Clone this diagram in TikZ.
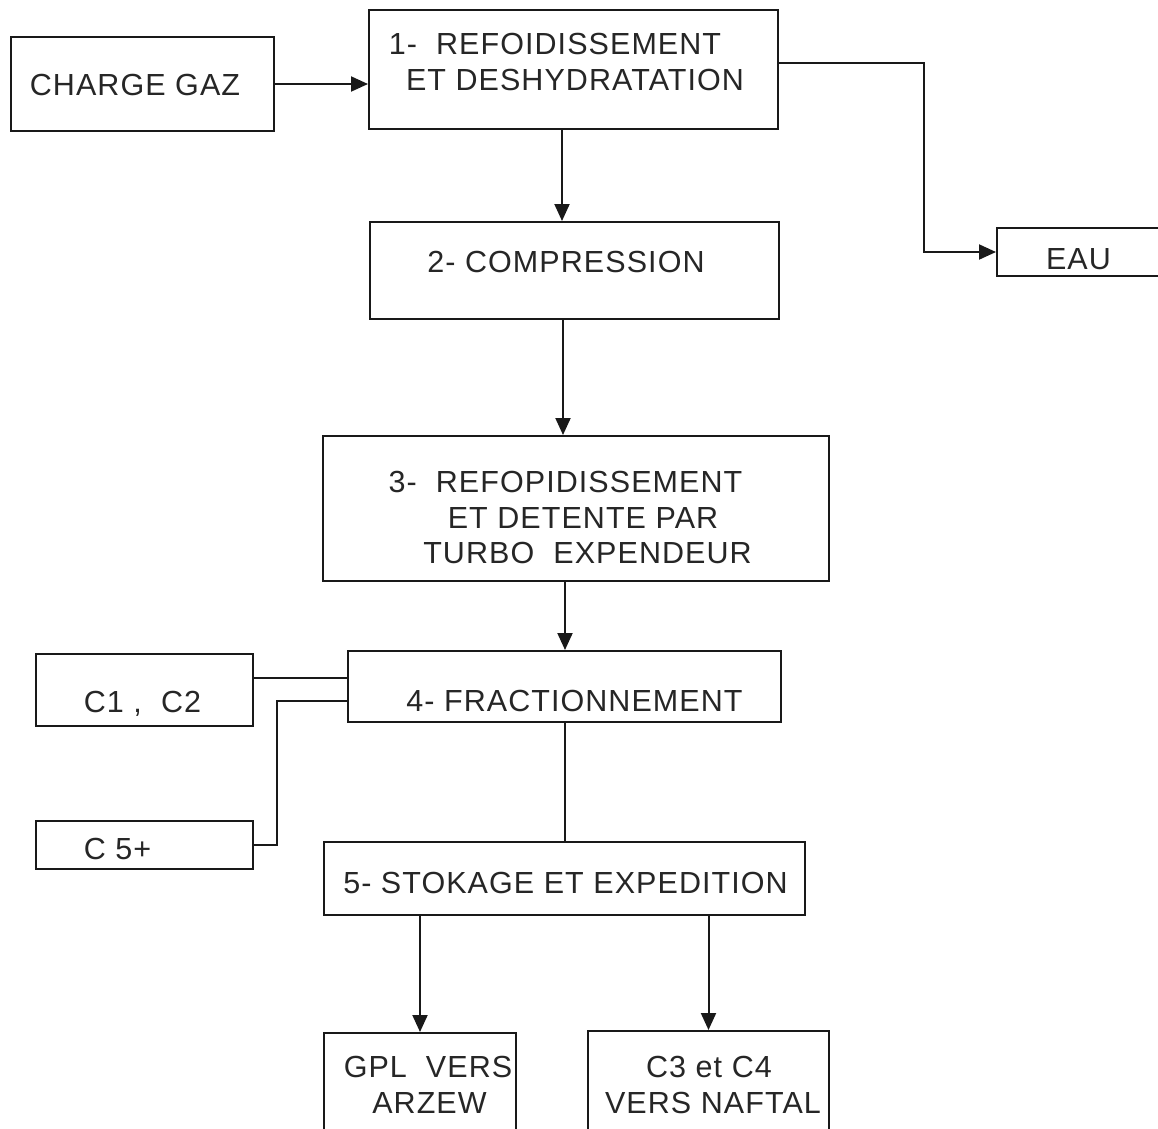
\documentclass[tikz,border=0pt]{standalone}
\usepackage{fontspec}
\setmainfont{Liberation Sans}[LetterSpace=3.5]
\usetikzlibrary{arrows.meta}
\begin{document}
\begin{tikzpicture}[x=1pt,y=-1pt,
  box/.style 2 args={draw=black!90, line width=2pt, inner sep=0pt, minimum width=#1, minimum height=#2},
  txt/.style={anchor=base, inner sep=0pt, text=black!85, font=\fontsize{30.5}{36}\selectfont},
  conn/.style={draw=black!90, line width=2pt},
  arr/.style={conn, -{Triangle[length=17pt,width=15pt]}}]
\fill[white] (0,0) rectangle (1158,1128);
\clip (0,0) rectangle (1158,1128);
% boxes
\node[box={263pt}{94pt}]  (charge) at (142.5,84) {};
\node[box={409pt}{119pt}] (b1) at (573.5,69.5) {};
\node[box={186pt}{48pt}]  (eau) at (1090,252) {};
\node[box={409pt}{97pt}]  (b2) at (574.5,270.5) {};
\node[box={506pt}{145pt}] (b3) at (576,508.5) {};
\node[box={433pt}{71pt}]  (b4) at (564.5,686.5) {};
\node[box={217pt}{72pt}]  (c12) at (144.5,690) {};
\node[box={217pt}{48pt}]  (c5) at (144.5,845) {};
\node[box={481pt}{73pt}]  (b5) at (564.5,878.5) {};
\node[box={192pt}{107pt}] (gpl) at (420,1086.5) {};
\node[box={241pt}{109pt}] (naft) at (708.5,1085.5) {};
% texts
\node[txt] (tcharge) at (135,95) {CHARGE GAZ};
\node[txt] (t1a) at (555,54) {1-\ \ REFOIDISSEMENT};
\node[txt] (t1b) at (575,90) {ET DESHYDRATATION};
\node[txt] (teau) at (1078.5,269) {EAU};
\node[txt] (t2) at (566,272) {2- COMPRESSION};
\node[txt] (t3a) at (565.5,492) {3-\ \ REFOPIDISSEMENT};
\node[txt] (t3b) at (583,528) {ET DETENTE PAR};
\node[txt] (t3c) at (587.5,563) {TURBO\ \ EXPENDEUR};
\node[txt] (t4) at (574.5,711) {4- FRACTIONNEMENT};
\node[txt] (tc12) at (142.5,712) {C1 ,\ \ C2};
\node[txt] (tc5) at (117.5,859) {C 5+};
\node[txt] (t5) at (565.5,893) {5- STOKAGE ET EXPEDITION};
\node[txt] (tgpla) at (428,1077) {GPL\ \ VERS};
\node[txt] (tgplb) at (429.5,1113) {ARZEW};
\node[txt] (tnafa) at (709,1077) {C3 et C4};
\node[txt] (tnafb) at (713,1113) {VERS NAFTAL};
% connectors
\draw[arr] (charge.east) -- (charge.east -| b1.west);
\draw[arr] ([yshift=6.5pt]b1.east) -- ++(145,0) |- (eau.west);
\draw[arr] ([xshift=-11.5pt]b1.south) -- ([xshift=-11.5pt]b1.south |- b2.north);
\draw[arr] ([xshift=-11.5pt]b2.south) -- ([xshift=-11.5pt]b2.south |- b3.north);
\draw[arr] ([xshift=-11pt]b3.south) -- ([xshift=-11pt]b3.south |- b4.north);
\draw[conn] (b4.south) -- (b5.north);
\draw[conn] ([yshift=12pt]c12.east) -- ([yshift=12pt]c12.east -| b4.west);
\draw[conn] (c5.east) -- ++(23,0) |- ([yshift=-14.5pt]b4.west);
\draw[arr] (b5.south -| gpl.north) -- (gpl.north);
\draw[arr] (b5.south -| naft.north) -- (naft.north);
\end{tikzpicture}
\end{document}
